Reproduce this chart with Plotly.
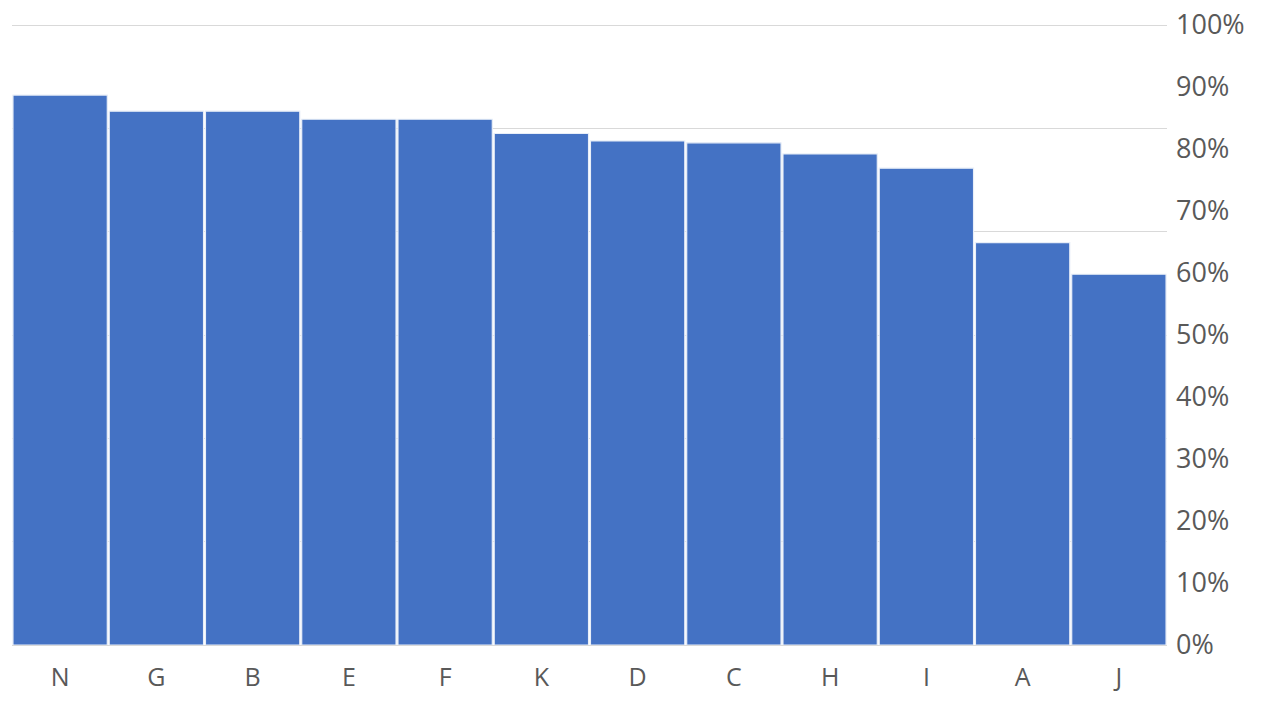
import plotly.graph_objects as go

categories = ["N", "G", "B", "E", "F", "K", "D", "C", "H", "I", "A", "J"]
values = [0.887, 0.861, 0.861, 0.848, 0.848, 0.825, 0.813, 0.810, 0.792, 0.769, 0.649, 0.598]
tick_vals = [i / 10 for i in range(11)]
tick_text = [f"{i * 10}%" for i in range(11)]
grid_steps = [1, 2, 3, 4, 5, 6]

top_pad = 623 / 620  # small headroom so the 100% gridline is drawn inside the plot

fig = go.Figure()
fig.add_trace(go.Bar(
    x=categories, y=values,
    marker=dict(color="#4472C4", line=dict(color="#e8eef8", width=1.2)),
    showlegend=False,
))
# helper trace to show gridlines of a secondary (hidden) scale
fig.add_trace(go.Scatter(x=[categories[0]], y=[None], yaxis="y2", showlegend=False,
                         hoverinfo="skip", mode="markers"))

fig.update_layout(
    width=1261, height=703,
    margin=dict(l=12, r=94, t=22, b=58),
    paper_bgcolor="white", plot_bgcolor="white",
    bargap=0.02,
    font=dict(family="Open Sans, Liberation Sans, sans-serif", color="#595959"),
    xaxis=dict(range=[-0.5, len(categories) - 0.5], showgrid=False, showline=True,
               linecolor="#d9d9d9", linewidth=1, automargin=False,
               tickfont=dict(size=25, color="#595959"), ticks="", ticklabelstandoff=10),
    yaxis=dict(side="right", range=[0, top_pad], tickvals=tick_vals, ticktext=tick_text,
               showgrid=False, zeroline=False, tickfont=dict(size=27, color="#595959"),
               ticks="", ticklabelstandoff=8, automargin=False),
    yaxis2=dict(overlaying="y", side="left", range=[0, 6 * top_pad], tickvals=grid_steps,
                showgrid=True, gridcolor="#d9d9d9", gridwidth=1, showticklabels=False,
                zeroline=False, ticks="", ticklen=0, automargin=False),
)

fig.write_html("out.html")
